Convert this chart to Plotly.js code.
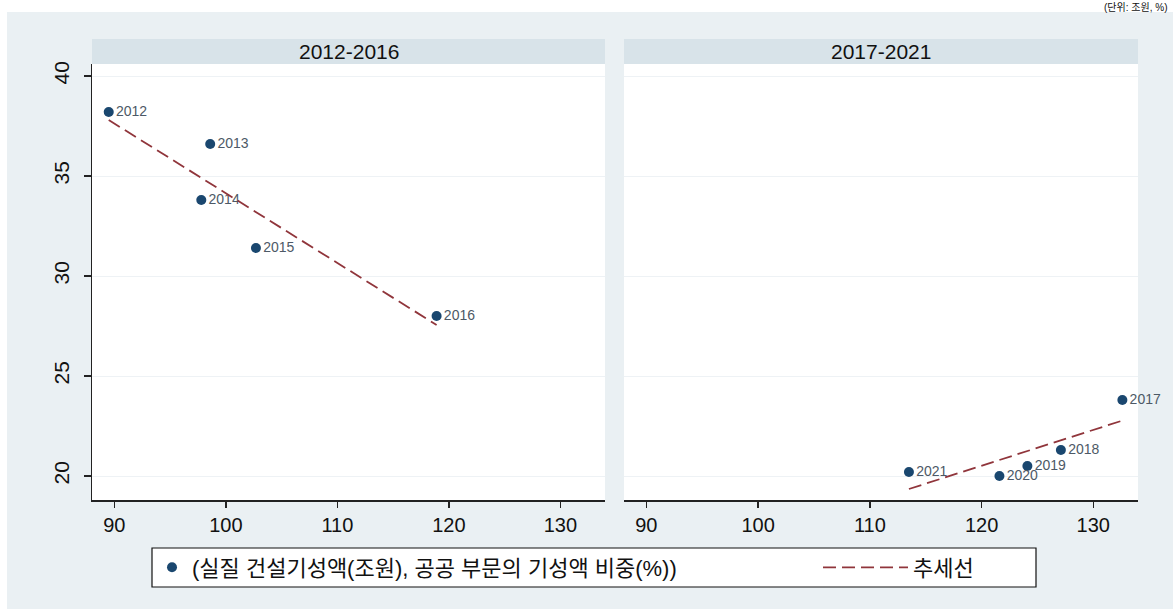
<!DOCTYPE html>
<html><head><meta charset="utf-8">
<script src="https://cdn.plot.ly/plotly-3.0.1.min.js"></script>
<style>html,body{margin:0;padding:0;background:#fff;} #chart{width:1173px;height:609px;}</style>
</head><body><div id="chart"></div>
<script>
// ---- data ----
const panelTitles = ["2012-2016", "2017-2021"];
const years1 = ["2012", "2013", "2014", "2015", "2016"];
const output1 = [89.5, 98.6, 97.8, 102.7, 118.9];   // 실질 건설기성액(조원)
const share1 = [38.2, 36.6, 33.8, 31.4, 28.0];       // 공공 부문의 기성액 비중(%)
const years2 = ["2017", "2018", "2019", "2020", "2021"];
const output2 = [132.6, 127.1, 124.1, 121.6, 113.5];
const share2 = [23.8, 21.3, 20.5, 20.0, 20.2];
const trendX1 = [89.5, 118.9];
const trendY1 = [37.8, 27.55];
const trendX2 = [113.5, 132.6];
const trendY2 = [19.35, 22.77];
const xTickVals = [90, 100, 110, 120, 130];
const yTickVals = [20, 25, 30, 35, 40];
const legendNames = ["(실질 건설기성액(조원), 공공 부문의 기성액 비중(%))", "추세선"];
const unitNote = "(단위: 조원, %)";

// ---- styling ----
const W = 1173, H = 609;
const px = v => v / W;
const py = v => 1 - v / H;
const FONT = "Liberation Sans, Arial, Noto Sans CJK KR, sans-serif";
const NAVY = "#1a476f", MAROON = "#90353b";
const OUTER_BG = "#eaf0f3", STRIP_BG = "#d8e3e9";

const xDom1 = [px(92), px(605)], xDom2 = [px(624), px(1138)];
const yDom = [py(500), py(64)];

const scatterStyle = {
  type: "scatter", mode: "markers+text", textposition: "middle right",
  marker: {color: NAVY, size: 10},
  textfont: {family: FONT, size: 14, color: "#4d5966"},
  cliponaxis: false, hoverinfo: "skip"
};
const trendStyle = {
  type: "scatter", mode: "lines",
  line: {color: MAROON, width: 1.8, dash: "13px,6px"}, hoverinfo: "skip"
};

const traces = [
  Object.assign({}, scatterStyle, {x: output1, y: share1, text: years1, xaxis: "x", yaxis: "y",
    name: legendNames[0], showlegend: true, legend: "legend"}),
  Object.assign({}, trendStyle, {x: trendX1, y: trendY1, xaxis: "x", yaxis: "y",
    name: legendNames[1], showlegend: true, legend: "legend2"}),
  Object.assign({}, scatterStyle, {x: output2, y: share2, text: years2, xaxis: "x2", yaxis: "y2",
    name: legendNames[0], showlegend: false}),
  Object.assign({}, trendStyle, {x: trendX2, y: trendY2, xaxis: "x2", yaxis: "y2",
    name: legendNames[1], showlegend: false})
];

const xAxisBase = {
  range: [88, 134], tickvals: xTickVals, ticks: "outside", ticklen: 6, tickwidth: 1.5,
  tickcolor: "#222", showline: true, linecolor: "#222", linewidth: 1.5,
  showgrid: false, zeroline: false, fixedrange: true,
  tickfont: {family: FONT, size: 20, color: "#111"}
};
const yAxisBase = {
  range: [18.8, 40.6], domain: yDom, tickvals: yTickVals, showgrid: true,
  gridcolor: "#eef2f5", gridwidth: 1, zeroline: false, fixedrange: true
};

const shapes = [
  {type: "rect", xref: "paper", yref: "paper", x0: px(7), x1: 1, y0: 0, y1: py(12),
   fillcolor: OUTER_BG, line: {width: 0}, layer: "below"},
  {type: "rect", xref: "paper", yref: "paper", x0: xDom1[0], x1: xDom1[1], y0: yDom[0], y1: yDom[1],
   fillcolor: "#ffffff", line: {width: 0}, layer: "below"},
  {type: "rect", xref: "paper", yref: "paper", x0: xDom2[0], x1: xDom2[1], y0: yDom[0], y1: yDom[1],
   fillcolor: "#ffffff", line: {width: 0}, layer: "below"},
  {type: "rect", xref: "paper", yref: "paper", x0: xDom1[0], x1: xDom1[1], y0: py(64), y1: py(39),
   fillcolor: STRIP_BG, line: {width: 0}, layer: "below"},
  {type: "rect", xref: "paper", yref: "paper", x0: xDom2[0], x1: xDom2[1], y0: py(64), y1: py(39),
   fillcolor: STRIP_BG, line: {width: 0}, layer: "below"},
  {type: "rect", xref: "paper", yref: "paper", x0: px(152), x1: px(1036), y0: py(587), y1: py(548),
   fillcolor: "#ffffff", line: {width: 1.2, color: "#111"}, layer: "below"}
];

const annotations = [
  {text: panelTitles[0], xref: "paper", yref: "paper", x: (xDom1[0] + xDom1[1]) / 2, y: py(51.5),
   xanchor: "center", yanchor: "middle", showarrow: false, font: {family: FONT, size: 21, color: "#111"}},
  {text: panelTitles[1], xref: "paper", yref: "paper", x: (xDom2[0] + xDom2[1]) / 2, y: py(51.5),
   xanchor: "center", yanchor: "middle", showarrow: false, font: {family: FONT, size: 21, color: "#111"}},
  {text: unitNote, xref: "paper", yref: "paper", x: px(1168), y: 1,
   xanchor: "right", yanchor: "top", showarrow: false, borderpad: 0,
   font: {family: FONT, size: 10, color: "#111"}}
];

const layout = {
  width: W, height: H,
  margin: {l: 0, r: 0, t: 0, b: 0, pad: 0},
  paper_bgcolor: "#ffffff", plot_bgcolor: "rgba(0,0,0,0)",
  font: {family: FONT, color: "#111"},
  xaxis: Object.assign({}, xAxisBase, {domain: xDom1, anchor: "y"}),
  xaxis2: Object.assign({}, xAxisBase, {domain: xDom2, anchor: "y2"}),
  yaxis: Object.assign({}, yAxisBase, {anchor: "x", showline: true, linecolor: "#222", linewidth: 1.5,
    ticks: "outside", ticklen: 7, tickwidth: 1.5, tickcolor: "#222", tickangle: -90,
    ticklabelstandoff: 6,
    tickfont: {family: FONT, size: 21, color: "#111"}}),
  yaxis2: Object.assign({}, yAxisBase, {anchor: "x2", showline: false, ticks: "", showticklabels: false}),
  showlegend: true,
  legend: {orientation: "h", x: px(152), xanchor: "left", y: py(567.5), yanchor: "middle",
    bgcolor: "rgba(0,0,0,0)", borderwidth: 0, font: {family: FONT, size: 22, color: "#111"}},
  legend2: {orientation: "h", x: px(818), xanchor: "left", y: py(567.5), yanchor: "middle",
    itemwidth: 85,
    bgcolor: "rgba(0,0,0,0)", borderwidth: 0, font: {family: FONT, size: 22, color: "#111"}},
  shapes: shapes,
  annotations: annotations
};

Plotly.newPlot("chart", traces, layout, {displayModeBar: false, staticPlot: true});
</script>
</body></html>
